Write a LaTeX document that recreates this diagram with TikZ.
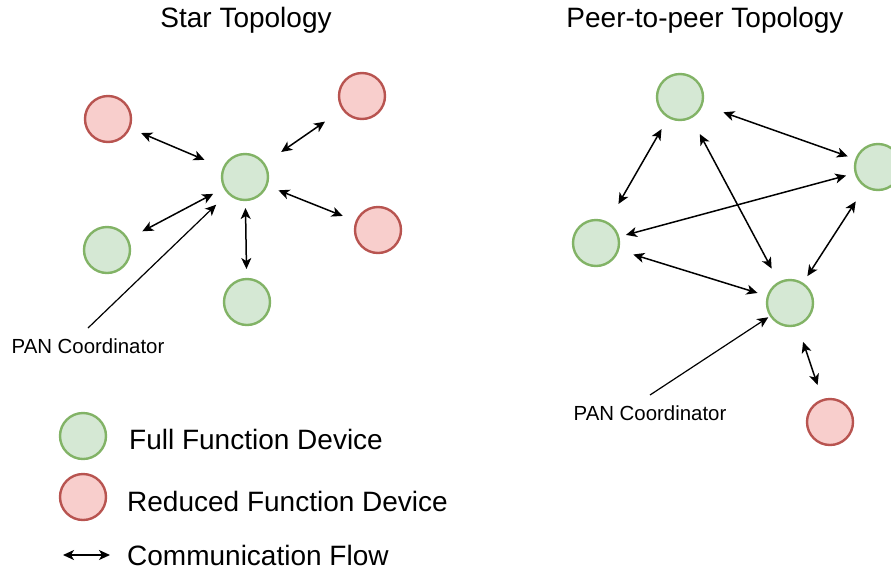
\documentclass[tikz,border=0pt]{standalone}
\usepackage{fontspec}
\setmainfont{Liberation Sans}
\usetikzlibrary{positioning, arrows.meta}
\definecolor{ffdgreen}{RGB}{130,179,102}
\definecolor{ffdfill}{RGB}{213,232,212}
\definecolor{rfdred}{RGB}{184,84,80}
\definecolor{rfdfill}{RGB}{248,206,204}

\begin{document}
\begin{tikzpicture}[
  x=1pt, y=-1pt,
  ffd/.style={circle, draw=ffdgreen, fill=ffdfill, line width=2.4pt,
    minimum size=46pt, inner sep=0pt, outer sep=0pt},
  rfd/.style={circle, draw=rfdred, fill=rfdfill, line width=2.4pt,
    minimum size=46pt, inner sep=0pt, outer sep=0pt},
  flow/.style={{Stealth[length=11pt,width=10pt,inset=3pt]}-{Stealth[length=11pt,width=10pt,inset=3pt]},
    line width=1.5pt},
  pointer/.style={-{Stealth[length=11pt,width=10pt,inset=3pt]}, line width=1.2pt},
  heading/.style={font=\fontsize{28}{33}\selectfont, inner sep=0pt},
  keytext/.style={font=\fontsize{28}{33}\selectfont, inner sep=0pt, anchor=west},
  pantext/.style={font=\fontsize{20.4}{24}\selectfont, inner sep=0pt}
]
  \clip (0,0) rectangle (891,571);

  % star topology
  \node[heading] (startitle) at (246,20) {Star Topology};
  \node[ffd] (shub) at (245,177) {};
  \node[rfd] (srfdnw) at (108,119) {};
  \node[rfd] (srfdne) at (362,96) {};
  \node[rfd] (srfde) at (378,230) {};
  \node[ffd] (sffdw) at (107,250) {};
  \node[ffd] (sffds) at (247,302) {};
  \node[pantext] (spanlabel) at (88,346) {PAN Coordinator};
  \coordinate (spantail) at (88,328);

  \draw[flow, shorten <=13pt, shorten >=21pt] (srfdnw) -- (shub);
  \draw[flow, shorten <=22pt, shorten >=21pt] (srfdne) -- (shub);
  \draw[flow, shorten <=13pt, shorten >=15pt] (shub) -- (srfde);
  \draw[flow, shorten <=17pt, shorten >=13pt] (sffdw) -- (shub);
  \draw[flow, shorten <=8pt, shorten >=10pt] (shub) -- (sffds);
  \draw[pointer, shorten >=17pt] (spantail) -- (shub);

  % peer-to-peer topology
  \node[heading] (peertitle) at (705,20) {Peer-to-peer Topology};
  \node[ffd] (pffdn) at (680,97) {};
  \node[ffd] (pffde) at (878,167) {};
  \node[ffd] (pffdw) at (596,243) {};
  \node[ffd] (phub) at (790,303) {};
  \node[rfd] (prfds) at (830,422) {};
  \node[pantext] (ppanlabel) at (650,413) {PAN Coordinator};
  \coordinate (ppantail) at (650,395);

  \draw[flow, shorten <=14pt, shorten >=22pt] (pffdn) -- (pffdw);
  \draw[flow, shorten <=23pt, shorten >=9pt] (pffdn) -- (pffde);
  \draw[flow, shorten <=19pt, shorten >=16pt] (pffdn) -- (phub);
  \draw[flow, shorten <=8pt, shorten >=10pt] (pffdw) -- (pffde);
  \draw[flow, shorten <=16pt, shorten >=11pt] (pffdw) -- (phub);
  \draw[flow, shorten <=18pt, shorten >=9pt] (pffde) -- (phub);
  \draw[flow, shorten <=18pt, shorten >=16pt] (phub) -- (prfds);
  \draw[pointer, shorten >=3pt] (ppantail) -- (phub);

  % legend
  \node[ffd] (keyffd) at (83,436) {};
  \node[keytext, right=23pt of keyffd, yshift=-3pt] (keyffdtext) {Full Function Device};
  \node[rfd] (keyrfd) at (83,497) {};
  \node[keytext, right=21pt of keyrfd, yshift=-4pt] (keyrfdtext) {Reduced Function Device};
  \coordinate (keyflowa) at (63,555);
  \coordinate (keyflowb) at (110,555);
  \draw[flow] (keyflowa) -- (keyflowb);
  \node[keytext, right=17pt of keyflowb] (keyflowtext) {Communication Flow};
\end{tikzpicture}
\end{document}
